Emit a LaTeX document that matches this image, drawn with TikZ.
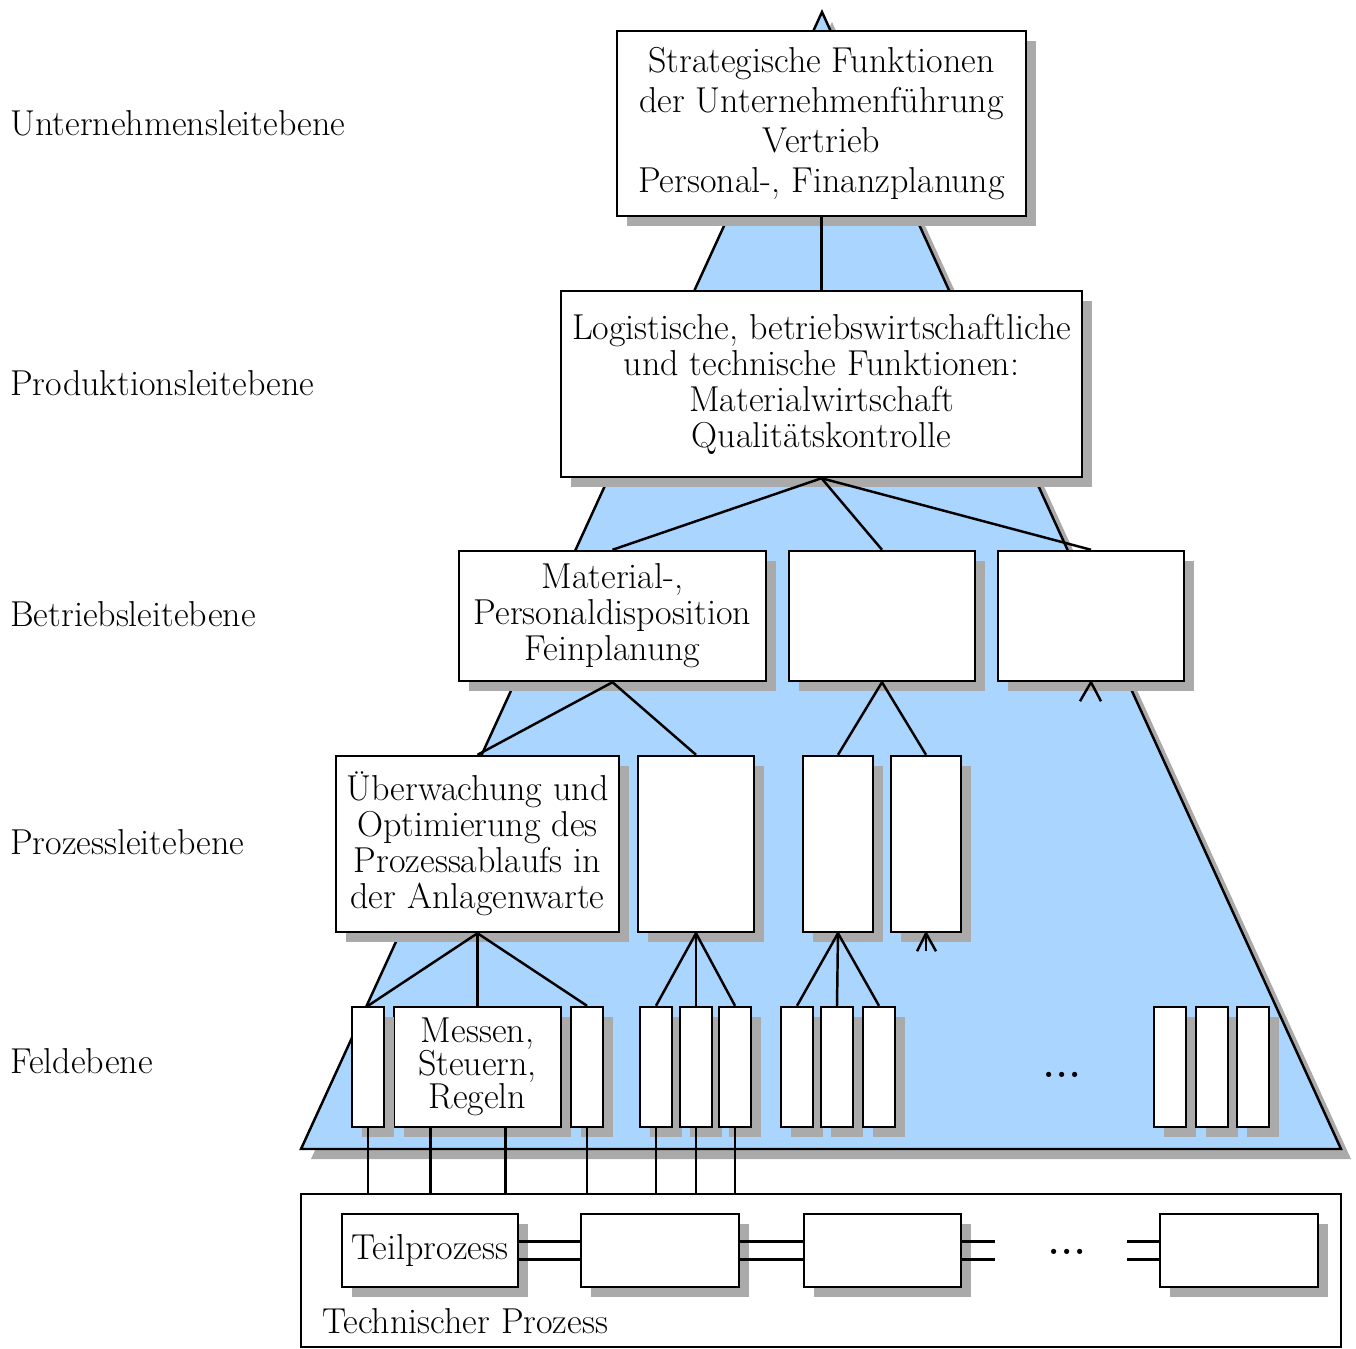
\documentclass[tikz,border=0pt]{standalone}
\usetikzlibrary{shadows,calc}
\definecolor{pyramidblue}{RGB}{170,213,255}
\definecolor{shadowgray}{RGB}{170,170,170}
\begin{document}
\begin{tikzpicture}[x=0.02cm,y=-0.02cm,
  every node/.style={font=\fontsize{20.5}{20.5}\selectfont},
  line/.style={line width=1.4pt},
  castshadow/.style={drop shadow={shadow xshift=0.2cm,shadow yshift=-0.2cm,fill=shadowgray,opacity=1}},
  sz/.style 2 args={minimum width=#1*0.02cm,minimum height=#2*0.02cm},
  box/.style={draw,line width=1.4pt,fill=white,inner sep=0pt,align=center,castshadow},
  framebox/.style={draw,line width=1.4pt,inner sep=0pt},
  levellabel/.style={anchor=west,inner sep=0pt},
  ellipsis/.style={font=\fontsize{20.5}{20.5}\selectfont\bfseries,inner sep=0pt}]

\useasboundingbox (0,0) rectangle (1356,1349);

% pyramid
\coordinate (apex) at (822,12);
\coordinate (bl) at (301,1149);
\coordinate (br) at (1341,1149);
\path[draw,line width=1.4pt,fill=pyramidblue,castshadow] (apex) -- (bl) -- (br) -- cycle;

% level names
\node[levellabel] (l1) at (10,123) {Unternehmensleitebene};
\node[levellabel] (l2) at (10,383) {Produktionsleitebene};
\node[levellabel] (l3) at (10,614) {Betriebsleitebene};
\node[levellabel] (l4) at (10,842) {Prozessleitebene};
\node[levellabel] (l5) at (10,1061) {Feldebene};

% management levels
\node[box,sz={409}{185},font=\fontsize{20.5}{22.7}\selectfont] (top) at (821.5,123.5)
  {Strategische Funktionen\\der Unternehmenführung\\Vertrieb\\Personal-, Finanzplanung};
\node[box,sz={521}{186}] (prod) at (821.5,384)
  {Logistische, betriebswirtschaftliche\\und technische Funktionen:\\Materialwirtschaft\\Qualitätskontrolle};

\node[box,sz={307}{130}] (b1) at (612.5,616) {Material-,\\Personaldisposition\\Feinplanung};
\node[box,sz={186}{130}] (b2) at (882,616) {};
\node[box,sz={186}{130}] (b3) at (1091,616) {};

\node[box,sz={283}{176}] (p1) at (477.5,844) {Überwachung und\\Optimierung des\\Prozessablaufs in\\der Anlagenwarte};
\node[box,sz={116}{176}] (p2) at (696,844) {};
\node[box,sz={70}{176}] (p3) at (838,844) {};
\node[box,sz={70}{176}] (p4) at (926,844) {};

% field level
\node[box,sz={167}{120},font=\fontsize{20.5}{18.6}\selectfont] (msr) at (477.5,1067) {Messen,\\Steuern,\\Regeln};
\foreach \n/\a in {f1/352,f3/571,f4/640,f5/680,f6/719,f7/781,f8/821,f9/863,f10/1154,f11/1196,f12/1237}
  \node[box,sz={32}{120}] (\n) at (\a+16,1067) {};
\node[ellipsis] (fdots) at (1062,1075) {.\kern0.9pt.\kern0.9pt.};

% technical process
\node[framebox,sz={1040}{153}] (tech) at (821,1270.5) {};
\node[levellabel] (techlabel) at (322,1321) {Technischer Prozess};
\node[box,sz={176}{73}] (t1) at (430,1250.5) {Teilprozess};
\node[box,sz={158}{73}] (t2) at (660,1250.5) {};
\node[box,sz={157}{73}] (t3) at (882.5,1250.5) {};
\node[box,sz={158}{73}] (t4) at (1239,1250.5) {};
\node[ellipsis] (tdots) at (1067,1252) {.\kern0.9pt.\kern0.9pt.};

% hierarchy connectors
\draw[line] (top.south) -- (prod.north);
\foreach \c in {b1,b2,b3} \draw[line] (prod.south) -- (\c.north);
\foreach \c in {p1,p2} \draw[line] (b1.south) -- (\c.north);
\foreach \c in {p3,p4} \draw[line] (b2.south) -- (\c.north);
\draw[line] (b3.south) -- ++(-11,19);
\draw[line] (b3.south) -- ++(10,19);
\foreach \c in {f1,msr,f3} \draw[line] (p1.south) -- (\c.north);
\foreach \c in {f4,f5,f6} \draw[line] (p2.south) -- (\c.north);
\foreach \c in {f7,f8,f9} \draw[line] (p3.south) -- (\c.north);
\draw[line] (p4.south) -- ++(-9,18);
\draw[line] (p4.south) -- ++(0,18);
\draw[line] (p4.south) -- ++(10,18);

% links from field devices down to the process
\coordinate (m1) at ($(msr.south west)!0.222!(msr.south east)$);
\coordinate (m2) at ($(msr.south west)!0.665!(msr.south east)$);
\foreach \c in {f1.south,m1,m2,f3.south,f4.south,f5.south,f6.south}
  \draw[line] (\c) -- (\c |- tech.north);

% coupling between the sub-processes
\foreach \s in {0.18cm,-0.18cm} {
  \draw[line] ([yshift=\s]t1.east) -- ([yshift=\s]t2.west);
  \draw[line] ([yshift=\s]t2.east) -- ([yshift=\s]t3.west);
  \draw[line] ([yshift=\s]t3.east) -- ++(33,0);
  \draw[line] ([yshift=\s]t4.west) -- ++(-32,0);
}
\end{tikzpicture}
\end{document}
